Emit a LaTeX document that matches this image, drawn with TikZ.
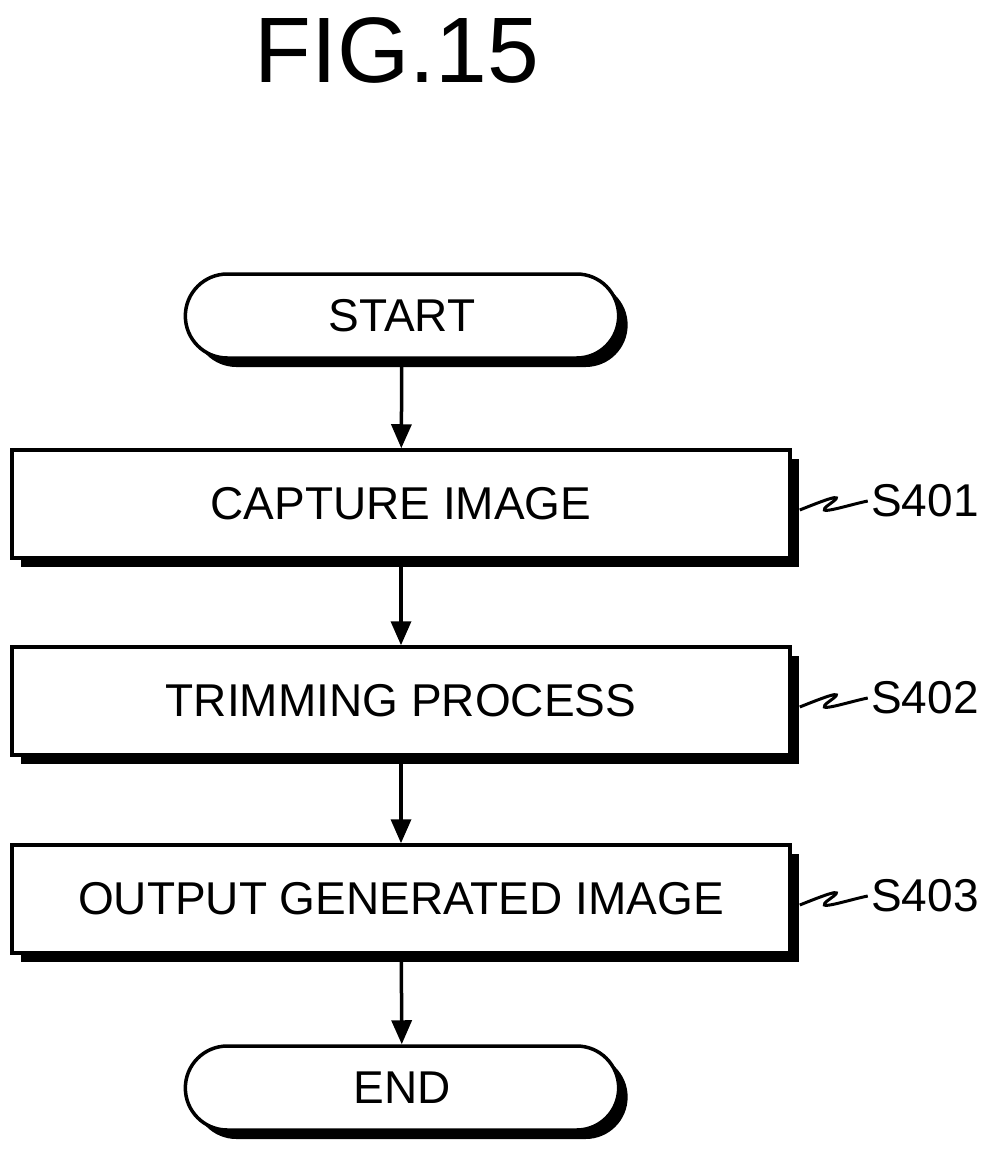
\documentclass[tikz,border=0pt]{standalone}
\usepackage{fontspec}
\setmainfont{Liberation Sans}
\usetikzlibrary{shadows,arrows.meta,shapes.misc}
\tikzset{
  procbox/.style={draw,line width=3.5pt,fill=white,minimum width=778pt,minimum height=108pt,
    font=\fontsize{46}{54}\selectfont,
    drop shadow={shadow xshift=9pt,shadow yshift=-9pt,fill=black,opacity=1}},
  term/.style={procbox,rounded rectangle,minimum width=440pt,minimum height=84pt},
  flow/.style={line width=3.5pt,-{Triangle[length=24pt,width=20pt]}},
  tag/.style={font=\fontsize{46}{54}\selectfont,anchor=west}
}
\begin{document}
\begin{tikzpicture}[x=1pt,y=-1pt]
  \useasboundingbox (0,0) rectangle (988,1167);
  \node[font=\fontsize{93}{100}\selectfont] (title) at (397,50) {FIG.15};
  % flow
  \node[term] (start) at (402,316) {START};
  \node[procbox] (s1) at (401,504) {CAPTURE IMAGE};
  \node[procbox] (s2) at (401,701) {TRIMMING PROCESS};
  \node[procbox] (s3) at (401,899) {OUTPUT GENERATED IMAGE};
  \node[term] (end) at (402,1088) {END};
  \draw[flow] (start) -- (s1);
  \draw[flow] (s1) -- (s2);
  \draw[flow] (s2) -- (s3);
  \draw[flow] (s3) -- (end);
  % step labels
  \foreach \s/\t in {s1/S401,s2/S402,s3/S403}{
    \node[tag] (\s tag) at ([xshift=76pt,yshift=3pt]\s.east) {\t};
    \draw[line width=3pt] ([xshift=8pt,yshift=-6pt]\s.east) .. controls +(20,-8) and +(20,-14) .. ([xshift=38pt,yshift=0pt]\s.east)
      .. controls +(-20,14) and +(-20,4) .. (\s tag.west);
  }
\end{tikzpicture}
\end{document}
